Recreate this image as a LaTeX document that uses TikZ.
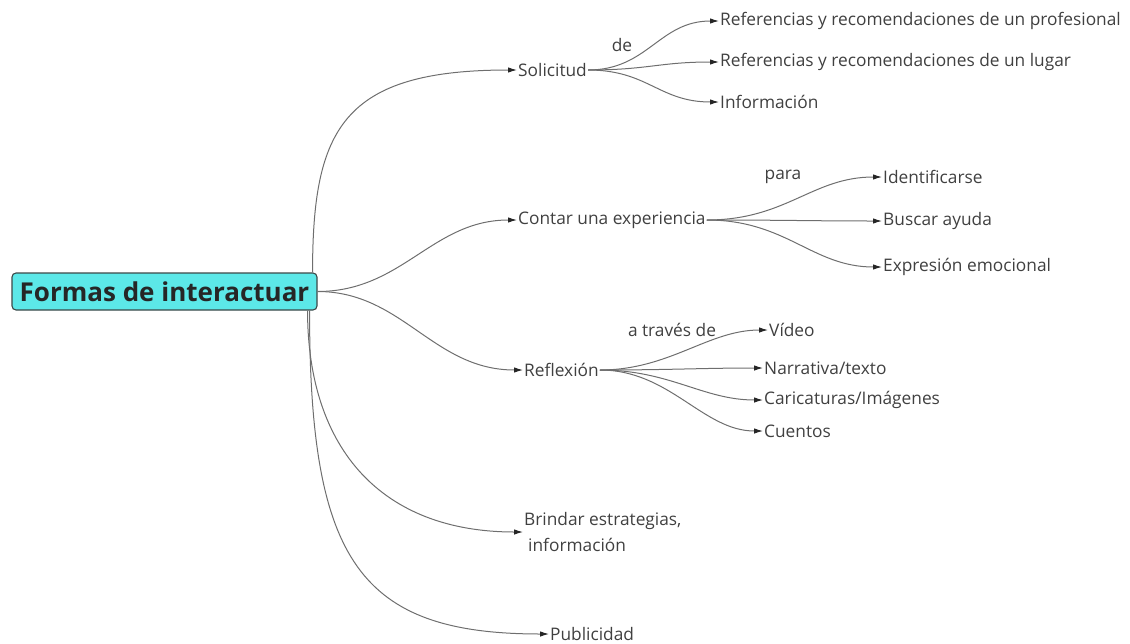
\documentclass[tikz,border=0pt]{standalone}
\usepackage{fontspec}
\setmainfont{Open Sans}
\usetikzlibrary{arrows.meta}
\definecolor{txt}{HTML}{404040}
\definecolor{ln}{HTML}{6E6E6E}
\definecolor{rootfill}{HTML}{5CE8E8}
\definecolor{rootdraw}{HTML}{3C4848}
\begin{document}
\begin{tikzpicture}[x=1pt,y=-1pt,
  leaf/.style={anchor=west, inner sep=1pt, text=txt, font=\fontsize{17.3}{26}\selectfont},
  lbl/.style={inner sep=1pt, text=txt, font=\fontsize{17.3}{20}\selectfont},
  rootbox/.style={draw=rootdraw, fill=rootfill, rounded corners=4pt, line width=1.1pt,
    minimum width=305pt, minimum height=37pt, inner sep=0pt, text=black!85,
    font=\bfseries\fontsize{26}{28}\selectfont},
  conn/.style={draw=ln, line width=1pt, -{Latex[length=9pt,width=5.5pt,color=black!85]}}
]
\useasboundingbox (0,0) rectangle (1130,643);

% root
\node[rootbox] (root) at (164.5,291.5) {Formas de interactuar};

% first level
\node[leaf] (sol) at (517,70) {Solicitud};
\node[leaf] (con) at (517,220) {Contar una experiencia};
\node[leaf] (ref) at (523,370) {Reflexión};
\node[leaf, align=left] (bri) at (523,532) {Brindar estrategias,\\\hspace{4pt}información};
\node[leaf] (pub) at (549,634) {Publicidad};

\draw[conn] ([xshift=-5pt]root.north east) .. controls +(0,-143) and +(-175,0) .. (sol.west);
\draw[conn] (root.east) .. controls +(85,0) and +(-85,0) .. (con.west);
\draw[conn] (root.east) .. controls +(85,0) and +(-90,0) .. (ref.west);
\draw[conn] ([xshift=-10pt]root.south east) .. controls +(0,140) and +(-140,0) .. (bri.west);
\draw[conn] ([xshift=-8pt]root.south east) .. controls +(0,250) and +(-190,0) .. (pub.west);

% Solicitud
\node[leaf] (s1) at (719,21) {Referencias y recomendaciones de un profesional};
\node[leaf] (s2) at (719,62) {Referencias y recomendaciones de un lugar};
\node[leaf] (s3) at (719,102) {Información};
\node[lbl] (lde) at (622,45) {de};
\draw[conn] (sol.east) .. controls +(60,0) and +(-60,0) .. (s1.west);
\draw[conn] (sol.east) .. controls +(60,0) and +(-60,0) .. (s2.west);
\draw[conn] (sol.east) .. controls +(60,0) and +(-60,0) .. (s3.west);

% Contar
\node[leaf] (c1) at (882,177) {Identificarse};
\node[leaf] (c2) at (882,221) {Buscar ayuda};
\node[leaf] (c3) at (882,267) {Expresión emocional};
\node[lbl] (lpara) at (783,177) {para};
\draw[conn] (con.east) .. controls +(80,0) and +(-70,0) .. (c1.west);
\draw[conn] (con.east) .. controls +(80,0) and +(-70,0) .. (c2.west);
\draw[conn] (con.east) .. controls +(80,0) and +(-70,0) .. (c3.west);

% Reflexion
\node[leaf] (r1) at (768,330) {Vídeo};
\node[leaf] (r2) at (763,368) {Narrativa/texto};
\node[leaf] (r3) at (763,400) {Caricaturas/Imágenes};
\node[leaf] (r4) at (763,431) {Cuentos};
\node[lbl] (latr) at (672,330) {a través de};
\draw[conn] (ref.east) .. controls +(70,0) and +(-60,0) .. (r1.west);
\draw[conn] (ref.east) .. controls +(70,0) and +(-60,0) .. (r2.west);
\draw[conn] (ref.east) .. controls +(70,0) and +(-60,0) .. (r3.west);
\draw[conn] (ref.east) .. controls +(70,0) and +(-60,0) .. (r4.west);
\end{tikzpicture}
\end{document}
